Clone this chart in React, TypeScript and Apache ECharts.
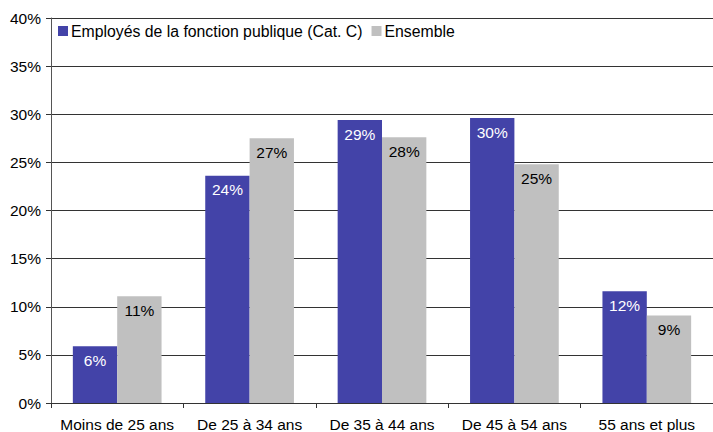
import React, { useEffect, useRef } from "react";
import * as echarts from "echarts";

const categories = ["Moins de 25 ans", "De 25 à 34 ans", "De 35 à 44 ans", "De 45 à 54 ans", "55 ans et plus"];
const seriesNames = ["Employés de la fonction publique (Cat. C)", "Ensemble"];
const fonctionPublique = [5.9, 23.6, 29.4, 29.6, 11.6];
const ensemble = [11.1, 27.5, 27.6, 24.8, 9.1];
const labelFP = ["6%", "24%", "29%", "30%", "12%"];
const labelEns = ["11%", "27%", "28%", "25%", "9%"];

const FONT = "Liberation Sans, Arial, Helvetica, sans-serif";
const FS = 15.5;

export default function App() {
  const ref = useRef<HTMLDivElement>(null);
  useEffect(() => {
    if (!ref.current) return;
    const chart = echarts.init(ref.current, undefined, { renderer: "svg" });
    chart.setOption({
      animation: false,
      textStyle: { fontFamily: FONT },
      legend: {
        left: 53,
        top: 18,
        itemWidth: 10,
        itemHeight: 10,
        itemGap: 9,
        icon: "rect",
        textStyle: { fontSize: 15.8, color: "#000", fontFamily: FONT, padding: [0, 0, 0, -2] },
        data: seriesNames,
      },
      grid: { left: 51, top: 18, width: 665, height: 385, containLabel: false },
      xAxis: {
        type: "category",
        data: categories,
        axisLine: { lineStyle: { color: "#333", width: 1 } },
        axisTick: { show: true, length: 5, inside: false, lineStyle: { color: "#333" } },
        axisLabel: { interval: 0, fontSize: FS, color: "#000", margin: 13, fontFamily: FONT },
      },
      yAxis: {
        type: "value",
        min: 0,
        max: 40,
        interval: 5,
        axisLine: { show: true, lineStyle: { color: "#555", width: 1 } },
        axisTick: { show: true, length: 5, lineStyle: { color: "#333" } },
        axisLabel: { fontSize: FS, color: "#000", margin: 10, formatter: "{value}%", fontFamily: FONT },
        splitLine: { show: true, lineStyle: { color: "#333", width: 1 } },
      },
      series: [
        {
          name: seriesNames[0],
          type: "bar",
          data: fonctionPublique,
          barGap: "0%",
          barCategoryGap: "33%",
          itemStyle: { color: "#4343A8" },
          label: {
            show: true,
            position: "insideTop",
            distance: 6,
            color: "#fff",
            fontSize: FS,
            fontFamily: FONT,
            formatter: (p: any) => labelFP[p.dataIndex],
          },
        },
        {
          name: seriesNames[1],
          type: "bar",
          data: ensemble,
          itemStyle: { color: "#C0C0C0" },
          label: {
            show: true,
            position: "insideTop",
            distance: 6,
            color: "#000",
            fontSize: FS,
            fontFamily: FONT,
            formatter: (p: any) => labelEns[p.dataIndex],
          },
        },
      ],
    });
    return () => chart.dispose();
  }, []);
  return <div ref={ref} style={{ width: 713, height: 432, position: "absolute", left: 0, top: 0, background: "#fff" }} />;
}
